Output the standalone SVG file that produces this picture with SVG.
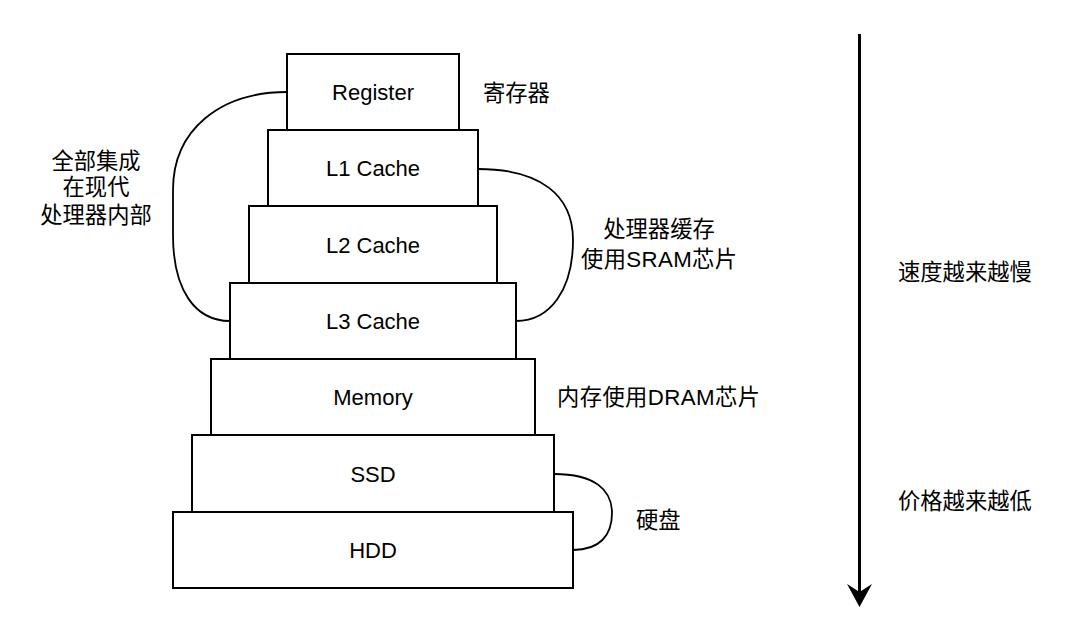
<svg xmlns="http://www.w3.org/2000/svg" width="1080" height="643" viewBox="0 0 1080 643">
  <style>
    .box { fill: #ffffff; stroke: #000000; stroke-width: 2; }
    .lbl { font-family: "Liberation Sans", Arial, sans-serif; font-size: 22px; fill: #000000; text-anchor: middle; }
    .cn { font-family: "Liberation Sans", "Noto Sans CJK SC", sans-serif; font-size: 22.3px; fill: #000000; }
    .mid { text-anchor: middle; }
    .curve { fill: none; stroke: #000000; stroke-width: 1.8; }
  </style>
  <rect width="1080" height="643" fill="#ffffff"/>
  <g id="register">
    <rect class="box" x="287" y="54" width="172" height="76"/>
    <text class="lbl" x="373" y="100">Register</text>
  </g>
  <g id="l1">
    <rect class="box" x="268" y="130" width="210" height="76"/>
    <text class="lbl" x="373" y="176">L1 Cache</text>
  </g>
  <g id="l2">
    <rect class="box" x="249" y="206" width="248" height="77"/>
    <text class="lbl" x="373" y="252.5">L2 Cache</text>
  </g>
  <g id="l3">
    <rect class="box" x="230" y="283" width="286" height="76"/>
    <text class="lbl" x="373" y="329">L3 Cache</text>
  </g>
  <g id="memory">
    <rect class="box" x="211" y="359" width="324" height="76"/>
    <text class="lbl" x="373" y="405">Memory</text>
  </g>
  <g id="ssd">
    <rect class="box" x="192" y="435" width="362" height="77"/>
    <text class="lbl" x="373" y="481.5">SSD</text>
  </g>
  <g id="hdd">
    <rect class="box" x="173" y="512" width="400" height="76"/>
    <text class="lbl" x="373" y="558">HDD</text>
  </g>
  <g id="connectors">
    <path class="curve" d="M287 92 C 220 92, 173 130, 173 190 L173 235 C 173 290, 195 321, 230 321"/>
    <path class="curve" d="M478 169 C 540 169, 573 195, 573 240 C 573 290, 550 321, 516 321"/>
    <path class="curve" d="M554 474 C 595 474, 612 490, 612 513 C 612 535, 600 550, 573 550"/>
    <line x1="859.5" y1="34" x2="859.5" y2="592" stroke="#000000" stroke-width="3"/>
    <polygon points="859.5,607 847,584 859.5,592 872,584" fill="#000000"/>
  </g>
  <g id="labels">
    <text class="cn" x="483" y="101">寄存器</text>
    <text class="cn mid" x="96" y="169">全部集成</text>
    <text class="cn mid" x="96" y="195">在现代</text>
    <text class="cn mid" x="96" y="223">处理器内部</text>
    <text class="cn mid" x="659" y="237">处理器缓存</text>
    <text class="cn" x="581" y="267" textLength="156" lengthAdjust="spacing">使用SRAM芯片</text>
    <text class="cn" x="557" y="404.5" textLength="203" lengthAdjust="spacing">内存使用DRAM芯片</text>
    <text class="cn" x="636" y="527.5">硬盘</text>
    <text class="cn" x="898" y="279.5">速度越来越慢</text>
    <text class="cn" x="898" y="509">价格越来越低</text>
  </g>
</svg>
